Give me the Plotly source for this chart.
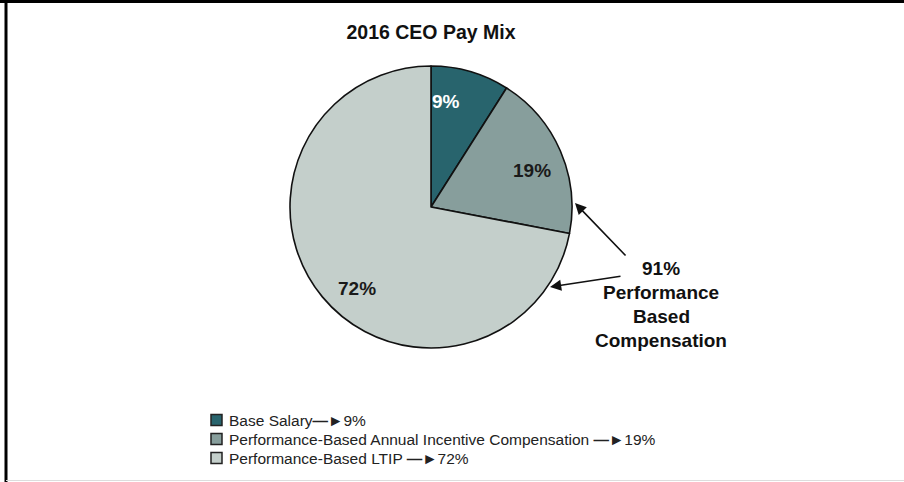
import plotly.graph_objects as go

# ---- data ----
categories = ["Base Salary", "Performance-Based Annual Incentive Compensation", "Performance-Based LTIP"]
values = [9, 19, 72]
colors = ["#28646d", "#879e9c", "#c4cfcb"]
title_text = "2016 CEO Pay Mix"
callout_lines = ["91%", "Performance", "Based", "Compensation"]

W, H = 904, 482
FONT = "Liberation Sans, Arial, Helvetica, sans-serif"

def px(x):
    return x / W

def py(y):
    return 1 - y / H

fig = go.Figure()
fig.add_trace(go.Pie(
    labels=categories,
    values=values,
    sort=False,
    direction="clockwise",
    rotation=0,
    marker=dict(colors=colors, line=dict(color="#111111", width=1.6)),
    textinfo="none",
    hoverinfo="label+percent",
    showlegend=False,
    domain=dict(x=[px(290), px(572)], y=[py(348), py(66)]),
))

annotations = []
# slice labels
label_pos = [(446, 101, "white"), (532, 170, "#1a1a1a"), (357, 288, "#1a1a1a")]
for v, (x, y, c) in zip(values, label_pos):
    annotations.append(dict(x=px(x), y=py(y), xref="paper", yref="paper",
                            text=f"<b>{v}%</b>", showarrow=False,
                            font=dict(family=FONT, size=19, color=c),
                            xanchor="center", yanchor="middle"))

# callout text
callout_y = [268, 292, 316, 340]
for line, y in zip(callout_lines, callout_y):
    annotations.append(dict(x=px(661), y=py(y), xref="paper", yref="paper",
                            text=f"<b>{line}</b>", showarrow=False,
                            font=dict(family=FONT, size=19, color="#111111"),
                            xanchor="center", yanchor="middle"))

# callout arrows
for (tx, ty), (hx, hy) in [((627, 257), (575, 203)), ((622, 276), (550, 287))]:
    annotations.append(dict(x=px(hx), y=py(hy), ax=tx - hx, ay=ty - hy,
                            xref="paper", yref="paper", axref="pixel", ayref="pixel",
                            text="", showarrow=True, arrowhead=2, arrowsize=1.4,
                            arrowwidth=1.6, arrowcolor="#111111"))

# manual legend
legend_y = [420, 439, 458]
sep = ["", " ", " "]
shapes = []
for name, v, c, y, s in zip(categories, values, colors, legend_y, sep):
    shapes.append(dict(type="rect", xref="paper", yref="paper",
                       x0=px(211), x1=px(222), y0=py(y + 5.5), y1=py(y - 5.5),
                       fillcolor=c, line=dict(color="#222222", width=1.5)))
    annotations.append(dict(x=px(227), y=py(y), xref="paper", yref="paper",
                            text=f"{name}{s}<b>\u2014</b>\u25BA{v}%", showarrow=False,
                            font=dict(family=FONT, size=15.5, color="#222222"),
                            xanchor="left", yanchor="middle"))

# frame lines
shapes.append(dict(type="line", xref="paper", yref="paper", x0=px(0), x1=px(904),
                   y0=py(1.5), y1=py(1.5), line=dict(color="black", width=3)))
shapes.append(dict(type="line", xref="paper", yref="paper", x0=px(6), x1=px(6),
                   y0=py(0), y1=py(482), line=dict(color="black", width=3)))
shapes.append(dict(type="line", xref="paper", yref="paper", x0=px(6), x1=px(904),
                   y0=py(480.5), y1=py(480.5), line=dict(color="#dddddd", width=1)))

fig.update_layout(
    width=W, height=H,
    margin=dict(l=0, r=0, t=0, b=0),
    paper_bgcolor="white", plot_bgcolor="white",
    title=dict(text=f"<b>{title_text}</b>", x=px(431), y=py(32),
               xanchor="center", yanchor="middle",
               font=dict(family=FONT, size=19.5, color="#111111")),
    annotations=annotations,
    shapes=shapes,
)

fig.write_html("out.html",
               config={"displayModeBar": False},
               post_script="document.body.style.margin='0';document.body.style.overflow='hidden';")
